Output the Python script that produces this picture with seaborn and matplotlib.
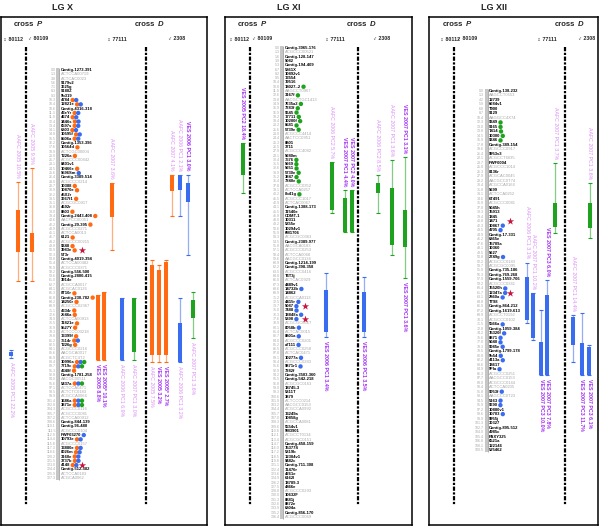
import matplotlib
matplotlib.use("Agg")
import matplotlib.pyplot as plt
from matplotlib.patches import Rectangle
import pandas as pd
import seaborn as sns

sns.set_theme(style="white")
plt.rcParams['font.family'] = ['Liberation Sans', 'DejaVu Sans']

# ---------------------------------------------------------------- data
lg_titles = ["LG X", "LG XI", "LG XII"]
cross_labels = ["P", "D"]
parent_labels = ["\u2640 80112", "\u2642 80109", "\u2640 77111", "\u2642 2308"]

lgx_markers = ["Contig-1273-391", "ACTCCA00719", "ACTCAC0023", "9179v2", "3625g", "9180Z", "5b319",
               "4784", "12821e", "Contig-4316-318", "43eYr", "4674", "3446s", "6597s", "6803", "10595f",
               "8506a", "Contig-1353-396", "10564d", "ACTCGC00004", "T226a", "ACGCCC00442", "8401v1",
               "10466e", "9596Sm", "Contig-3389-514", "ACGCCC0214", "10388", "10870e", "45X2r", "3667f1",
               "ACGCGC0917", "4692r", "8803", "Contig-2443-408", "AACFCC00051", "Contig-29-395",
               "ACGCCC0271", "ACTCCA0013", "6121", "ACGCCC00215", "9248", "3983e", "5T3r",
               "Contig-4019-394", "ACTCCA00482", "ACGCCC0371", "Contig-556-500", "Contig-2800-415",
               "3914e", "ACGCCA0017", "ACGCAC0126", "8T10r", "Contig-230-782", "14250r", "ACGCCC02367",
               "4334r", "2546a", "ACTCCA00913", "11821e", "9527Y", "ACTCCC00218", "13399f", "7514r",
               "T226g", "ACGCCC0216", "AACGCA0017", "ACGCTC4T2", "10996a", "7719c", "4348f",
               "Contig-1781-258", "AACGC00511", "5437a", "ACTCCA0471", "ACTCTC0183", "ACGCCA0064",
               "1686a", "3871e", "ACGCCC0116", "ACGCCC0081", "ACTCCA00912", "Contig-844-139",
               "Contig-96-480", "ACGCCC0104", "PWF03270", "10793e", "ACGCCC0157", "13880e", "8026m",
               "3160e", "3737b", "4148", "Contig-512-582", "ACTCCA0183", "ACGCA0062"]
lgx_pos = [0.0, 1.3, 3.8, 5.6, 7.1, 8.3, 9.3, 10.3, 10.4, 10.6, 11.3, 11.9, 12.4, 13.4, 14.1, 14.8,
           15.5, 16.2, 17.6, 18.9, 20.0, 21.7, 23.1, 24.5, 25.6, 26.4, 28.0, 29.7, 30.9, 32.2, 33.5,
           35.1, 36.8, 38.0, 39.4, 40.6, 42.2, 43.9, 45.1, 46.7, 48.2, 49.8, 50.9, 52.3, 53.8, 55.4,
           56.9, 58.2, 59.6, 61.0, 62.7, 64.1, 65.3, 66.8, 68.2, 69.9, 71.1, 72.6, 74.0, 75.5, 76.9,
           78.3, 79.8, 81.2, 82.5, 84.1, 85.6, 86.9, 88.4, 89.7, 91.3, 92.8, 94.0, 95.6, 97.1, 98.5,
           99.9, 101.4, 102.8, 104.3, 105.7, 107.2, 108.6, 110.1, 111.5, 112.9, 114.4, 115.8, 117.3,
           118.6, 120.2, 121.5, 123.0, 124.4, 125.9, 127.3]
lgx_dots = {"4784": "ob", "12821e": "ob", "43eYr": "ob", "4674": "ob", "3446s": "ob", "6597s": "ob",
            "6803": "ob", "10595f": "ob", "8506a": "ob", "10564d": "o", "T226a": "o", "10466e": "o",
            "9596Sm": "b", "10388": "o", "10870e": "o", "3667f1": "o", "8803": "o",
            "Contig-2443-408": "o", "Contig-29-395": "o", "6121": "o", "9248": "o", "3983e": "o",
            "8T10r": "o", "Contig-230-782": "o", "14250r": "o", "4334r": "o", "2546a": "o",
            "11821e": "o", "9527Y": "o", "13399f": "o", "7514r": "ob", "T226g": "o", "10996a": "obg",
            "7719c": "obg", "4348f": "o", "5437a": "obg", "1686a": "obg", "3871e": "obg",
            "PWF03270": "b", "10793e": "ob", "13880e": "ob", "8026m": "ob", "3160e": "ob",
            "3737b": "ob", "4148": "ob"}
lgx_stars = ["3983e", "4148"]
# QTL: colour, whisker top, core top, core bottom, whisker bottom (marker rows), label above, label below
lgx_qtl = [("o", 26.1, 32.6, 42.4, 49.1, "AAFC 2005 10.5%", ""),
           ("o", 22.8, 38.0, 42.4, 49.1, "AAFC 2005 9.5%", ""),
           ("o", 26.3, 26.3, 34.2, 41.9, "AAFC 2007 3.6%", ""),
           ("o", 24.4, 24.4, 28.2, 34.0, "AAFC 2007 4.1%", ""),
           ("b", 24.4, 24.4, 27.9, 34.0, "AAFC 2006 PC1 2.1%", ""),
           ("b", 24.4, 26.3, 30.7, 43.1, "VES 2006 PC1 3.0%", ""),
           ("o", 52.4, 52.4, 67.5, 67.5, "", "VES 2005 8.8%"),
           ("o", 51.7, 51.7, 67.5, 67.5, "", "VES 2005* 10.1%"),
           ("b", 53.1, 53.1, 67.5, 67.5, "", "AAFC 2006 PC1 6.9%"),
           ("g", 53.1, 53.1, 65.7, 67.5, "", "AAFC 2007 PC1 3.0%"),
           ("o", 44.2, 45.4, 66.4, 68.0, "", "AAFC 2005 7.5%"),
           ("o", 45.4, 46.6, 66.4, 68.0, "", "VES 2005 3.2%"),
           ("o", 44.2, 44.7, 66.4, 68.0, "", "VES 2005* 2.7%"),
           ("b", 53.1, 58.9, 68.0, 68.0, "", "AAFC 2006 PC1 3.2%"),
           ("g", 51.7, 53.6, 57.8, 62.4, "", "AAFC 2007 PC1 3.6%"),
           ("b", 65.2, 65.6, 66.6, 67.1, "", "AAFC 2005 PC1 22.2%")]

lgxi_markers = ["Contig-3065-176", "ACGCCC00521", "Contig-128-147", "5082", "Contig-194-409", "5861X",
                "10892v1", "13554", "19516", "18027-.2", "AAGCCT0967", "3167f", "AACGCTGC1413",
                "7635a2", "7383f", "9645", "17711", "10200f", "8581", "5739e", "ACGCCC4414",
                "AACTCC0951", "8801", "3711", "ACGCCC4082", "5680m", "7576", "5669", "5651", "5730e",
                "3847", "7840e", "ACGCCC0352", "ACTCCA0257", "8b41g", "ACGCCC1017", "ACTCAC0067",
                "Contig-1388-173", "11540e", "COMT-1", "10311", "5855e", "10294v1", "6M1706",
                "ACGCGC0363", "Contig-2389-977", "AACGCA0183", "ACGCCC0253", "ACTCCA0068",
                "AACGCC0134", "Contig-1214-199", "Contig-398-358", "ACGCCC0416", "T6T3j", "ACTCAC0929",
                "4489v1", "14732b", "14862", "ACGCCA0113", "4415r", "5087", "7488", "18848a", "5898",
                "ACGCGC0517", "8058b", "ACTCAC0015", "8801a", "ACGCCC0201", "a7111", "ACGCCC0258",
                "ACTCAC0471", "10277a", "ACGCCC0283", "9871r1", "7282f", "Contig-3503-360",
                "Contig-542-218", "ACGCGC0163", "18745-3", "5811T", "3879", "ACTCCC0214", "AACGCC0153",
                "ACGCCA0992", "13249a", "10858g", "ACGCCA0081", "5554v1", "5M3901", "ACGCCT0134",
                "ACGCGC0151", "Contig-458-159", "15377S", "5819b", "12384v1", "9482c", "Contig-711-308",
                "11476r", "4261e", "6162l", "18789-3", "4866e", "ACGCCC0293", "10632F", "8881j", "8872e",
                "6804a", "Contig-856-170", "ACGCCC0069"]
lgxi_pos = [0.0, 1.3, 1.6, 3.9, 5.3, 6.7, 8.2, 9.5, 10.4, 10.8, 11.9, 12.6, 13.8, 14.9, 15.9, 16.9,
            18.2, 19.4, 20.2, 21.6, 23.0, 24.4, 25.3, 26.5, 27.9, 29.1, 30.4, 31.5, 32.6, 33.9, 35.2,
            36.4, 37.8, 39.1, 40.2, 41.5, 42.9, 44.1, 45.5, 46.8, 48.0, 49.2, 50.6, 51.9, 53.3, 54.5,
            55.8, 57.1, 58.4, 59.6, 60.9, 62.2, 63.5, 64.8, 66.0, 67.3, 68.6, 69.9, 71.2, 72.5, 73.7,
            75.0, 76.3, 77.6, 78.9, 80.1, 81.4, 82.7, 84.0, 85.2, 86.5, 87.8, 89.1, 90.4, 91.6, 92.9,
            94.2, 95.5, 96.8, 98.0, 99.3, 100.6, 101.9, 103.2, 104.4, 105.7, 107.0, 108.3, 109.6,
            110.8, 112.1, 113.4, 114.7, 116.0, 117.2, 118.5, 119.8, 121.1, 122.4, 123.6, 124.9, 126.2,
            127.5, 128.8, 130.0, 131.3, 132.6, 133.9, 135.2, 136.4]
lgxi_dots = {"18027-.2": "g", "3167f": "g", "7635a2": "g", "7383f": "g", "9645": "g", "17711": "g",
             "10200f": "g", "8581": "g", "5739e": "g", "7576": "g", "5669": "g", "5651": "g",
             "5730e": "g", "3847": "g", "7840e": "g", "8b41g": "g", "14732b": "b", "4415r": "b",
             "5087": "b", "7488": "b", "18848a": "b", "5898": "b", "8058b": "b", "8801a": "b",
             "a7111": "b", "10277a": "b", "9871r1": "b"}
lgxi_stars = ["5087", "5898"]
lgxi_qtl = [("g", 22.1, 22.1, 29.5, 33.7, "VES 2005 PC2 18.4%", ""),
            ("g", 26.5, 26.5, 37.6, 38.3, "AAFC 2006 PC2 5.7%", ""),
            ("g", 33.0, 34.9, 42.8, 42.8, "VES 2007 PC1 4.4%", ""),
            ("g", 33.0, 33.0, 42.8, 42.8, "VES 2007 PC2 4.0%", ""),
            ("g", 29.5, 31.4, 33.7, 38.3, "AAFC 2006 PC2 8.5%", ""),
            ("g", 26.0, 32.5, 45.8, 48.1, "AAFC 2007 PC1 3.6%", ""),
            ("g", 25.3, 37.6, 46.2, 53.5, "VES 2007 PC1 3.1%", "VES 2007 PC1 3.6%"),
            ("b", 52.3, 56.2, 66.0, 67.2, "", "VES 2006 PC1 3.4%"),
            ("b", 53.2, 56.7, 66.0, 67.2, "", "VES 2006 PC1 3.5%")]

lgxii_markers = ["Contig-138-232", "AAGCCT0553", "12739", "6684v1", "T900", "9129", "AAGGCC4X74",
                 "9349", "9165", "T414", "10300", "9246", "Contig-389-154", "ACGCCC0917", "9953v3",
                 "ACGCCT6035", "PWF0004", "ACGCCC1014", "8136r", "ACGCAC0045", "AACGCC0T74",
                 "ACGCCA0164", "5699", "ACTCCA0252", "6T491", "ACGCCC0081", "5045h", "15913", "1845",
                 "1471", "10867", "4705", "Contig-17-331", "6865e", "15709a", "10360", "5627", "2749g",
                 "ACGCCC0183", "ACGCGC0095", "Contig-735-186", "Contig-769-268", "Contig-1559-706",
                 "ACGCCC0341", "15520h", "12347a", "2860a", "TT98", "Contig-864-212", "Contig-1619-613",
                 "ACGCCT0192", "ACGCCC0102", "5566a", "Contig-1059-384", "15320f", "8871", "5040",
                 "9085e", "Contig-1799-178", "5b54", "4113a", "18617", "5FIa", "ACGCCC0251",
                 "AACGCC0153", "ACGCCC0144", "ACTCCA0205", "9053f", "AAGCCC0T23", "5163", "9690",
                 "10880v1", "10703", "9955j", "30327", "Contig-895-512", "4985c", "PAXY325", "6521a",
                 "122146", "525462"]
lgxii_pos = [0.0, 1.3, 4.2, 5.9, 6.8, 8.7, 10.4, 12.3, 13.0, 13.8, 14.5, 15.9, 17.8, 19.6, 21.4,
             22.1, 23.7, 25.0, 26.3, 27.9, 29.2, 30.4, 31.8, 33.1, 34.6, 35.9, 37.0, 38.3, 39.4, 40.8,
             42.3, 43.5, 44.9, 46.2, 47.6, 48.1, 49.5, 50.8, 52.2, 53.7, 55.0, 56.3, 57.9, 59.2, 60.4,
             61.7, 63.1, 64.8, 66.0, 67.2, 68.9, 70.1, 71.5, 72.8, 74.2, 75.6, 77.0, 78.3, 79.5, 80.8,
             82.2, 83.6, 84.9, 86.3, 87.7, 89.0, 90.4, 91.8, 93.1, 94.5, 95.9, 97.2, 98.6, 99.9, 101.3,
             102.7, 104.0, 105.4, 106.8, 108.1, 109.5]
lgxii_dots = {"9349": "g", "9165": "g", "T414": "g", "10300": "g", "9246": "g", "10867": "b",
              "4705": "b", "2749g": "b", "15520h": "b", "12347a": "b", "2860a": "b", "5566a": "b",
              "15320f": "b", "8871": "b", "5040": "b", "9085e": "b", "5b54": "b", "4113a": "b",
              "5FIa": "b", "9053f": "b", "5163": "b", "9690": "b", "10703": "b"}
lgxii_stars = ["1471", "12347a"]
lgxii_qtl = [("g", 16.0, 25.0, 30.3, 31.6, "AAFC 2007 PC1 3.7%", ""),
             ("g", 20.5, 25.0, 30.5, 32.8, "AAFC 2007 PC1 3.6%", ""),
             ("b", 38.3, 41.4, 51.0, 51.7, "AAFC 2006 PC1 3.1%", ""),
             ("b", 45.0, 45.0, 55.0, 55.5, "AAFC 2007 PC1 10.2%", ""),
             ("b", 48.8, 55.9, 63.3, 63.3, "", "VES 2007 PC3 10.0%"),
             ("b", 42.1, 45.5, 63.3, 63.3, "VES 2007 PC3 6.0%", "VES 2007 PC3 7.8%"),
             ("b", 49.9, 50.4, 56.6, 60.4, "AAFC 2007 PC1 14.4%", ""),
             ("b", 49.5, 56.2, 63.3, 63.3, "", "VES 2007 PC3 11.7%"),
             ("b", 56.6, 57.0, 63.3, 63.3, "", "VES 2007 PC3 6.1%")]

# ---------------------------------------------------------------- layout (pixels)
W, H = 600, 528
panels = [
    dict(title=lg_titles[0], title_x=63, box=(1, 17, 207, 525), first=70, last=478, bar_x=58,
         dash_x=(26, 146), cross_x=(14, 135), par_x=(3, 28, 107, 168), star_x=82,
         markers=lgx_markers, pos=lgx_pos, dots=lgx_dots, stars=lgx_stars, qtl=lgx_qtl,
         qtl_x=[18, 32, 112, 172, 180, 188, 98, 104, 122, 134, 152, 159, 166, 180, 193, 11]),
    dict(title=lg_titles[1], title_x=289, box=(225, 17, 412, 525), first=48, last=517, bar_x=282,
         dash_x=(250, 358), cross_x=(238, 347), par_x=(229, 252, 325, 373), star_x=305,
         markers=lgxi_markers, pos=lgxi_pos, dots=lgxi_dots, stars=lgxi_stars, qtl=lgxi_qtl,
         qtl_x=[243, 332, 345, 352, 378, 392, 405, 326, 364]),
    dict(title=lg_titles[2], title_x=494, box=(429, 17, 598, 525), first=91, last=450, bar_x=486,
         dash_x=(454, 565), cross_x=(443, 555), par_x=(440, 457, 537, 578), star_x=510,
         markers=lgxii_markers, pos=lgxii_pos, dots=lgxii_dots, stars=lgxii_stars, qtl=lgxii_qtl,
         qtl_x=[555, 590, 527, 533, 541, 547, 573, 582, 589]),
]

colors = {"o": "#ff6a13", "b": "#3a6cf0", "g": "#1fa21f"}
lab_light, lab_dark = "#dc8cf5", "#a12cf2"
grey_txt = "#a8a8a8"

fig = plt.figure(figsize=(W / 100, H / 100), dpi=100)
renderer = fig.canvas.get_renderer()


def fy(py):
    return 1 - py / H


for p in panels:
    bx0, by0, bx1, by1 = p["box"]
    n = len(p["markers"])
    sp = (p["last"] - p["first"]) / (n - 1)

    def row(py, p=p, sp=sp):
        return (py - p["first"]) / sp

    ax = fig.add_axes([bx0 / W, 1 - by1 / H, (bx1 - bx0) / W, (by1 - by0) / H])
    ax.set_xlim(bx0, bx1)
    ax.set_ylim(row(by1), row(by0))
    ax.set_xticks([])
    ax.set_yticks([])
    for s in ax.spines.values():
        s.set_color("black")
        s.set_linewidth(1.1)

    # titles and headers
    fig.text(p["title_x"] / W, fy(7), p["title"], ha="center", va="center",
             fontsize=6.5, fontweight="bold")
    for cx, cl in zip(p["cross_x"], cross_labels):
        t = fig.text(cx / W, fy(25), "cross", ha="left", va="center", fontsize=5.6, fontweight="bold")
        bb = t.get_window_extent(renderer)
        fig.text((bb.x1 + 2.2) / W, fy(25), cl, ha="left", va="center", fontsize=5.6,
                 fontweight="bold", fontstyle="italic")
    for px, lab in zip(p["par_x"], parent_labels):
        fig.text(px / W, fy(39), lab, ha="left", va="center", fontsize=3.8, fontweight="bold")

    # dashed parental map lines
    for dx in p["dash_x"]:
        ax.plot([dx, dx], [row(47), row(505)], color="black", lw=1.6,
                linestyle=(0, (1.9, 0.7, 1.0, 0.7)))

    # linkage group bar
    bx = p["bar_x"]
    ax.add_patch(Rectangle((bx - 1.5, -0.5), 3.0, n, facecolor="#c6c6c6", edgecolor="none"))
    ax.vlines(bx + 1.5, -0.5, n - 0.5, color="#8e8e8e", lw=0.5)

    dot_rows = []
    star_rows = []
    for i, name in enumerate(p["markers"]):
        grey = name[:2] in ("AC", "AA", "AG")
        t = ax.text(bx + 2.6, i, name, fontsize=3.0, ha="left", va="center",
                    fontweight="normal" if grey else "bold",
                    color=grey_txt if grey else "black")
        if name in p["dots"]:
            bb = t.get_window_extent(renderer)
            xr = ax.transData.inverted().transform((bb.x1, bb.y0))[0]
            for k, c in enumerate(p["dots"][name]):
                dot_rows.append(dict(x=xr + 2.8 + 3.6 * k, y=i, c=c))
        if name in p["stars"]:
            star_rows.append(dict(x=p["star_x"], y=i))
    for i, v in zip(range(n), p["pos"]):
        ax.text(bx - 2.2, i, f"{v:.1f}", fontsize=2.6, ha="right", va="center", color=grey_txt)

    if dot_rows:
        sns.scatterplot(data=pd.DataFrame(dot_rows), x="x", y="y", hue="c", palette=colors,
                        s=10, linewidth=0, legend=False, ax=ax, zorder=3)
    if star_rows:
        sns.scatterplot(data=pd.DataFrame(star_rows), x="x", y="y", marker="*", color="#c8143c",
                        s=30, linewidth=0, legend=False, ax=ax, zorder=3)

    # QTL bars
    for x, (c, wt, ct, cb, wb, la, lb) in zip(p["qtl_x"], p["qtl"]):
        col = colors[c]
        ax.vlines(x, wt, wb, color=col, lw=0.9, alpha=0.55)
        ax.hlines([wt, wb], x - 1.7, x + 1.7, color=col, lw=0.8)
        ax.vlines(x, ct, cb, color=col, lw=2.9)
        for lab, yy, va in ((la, wt - 4 / sp, "bottom"), (lb, wb + 4 / sp, "top")):
            if lab:
                dark = lab.startswith("VES")
                ax.text(x, yy, lab, rotation=-90, ha="center", va=va, fontsize=3.8,
                        fontweight="bold" if dark else "normal",
                        color=lab_dark if dark else lab_light)

    ax.set_xlim(bx0, bx1)
    ax.set_ylim(row(by1), row(by0))
    ax.set_xlabel("")
    ax.set_ylabel("")

fig.savefig("out.png", dpi=100)
